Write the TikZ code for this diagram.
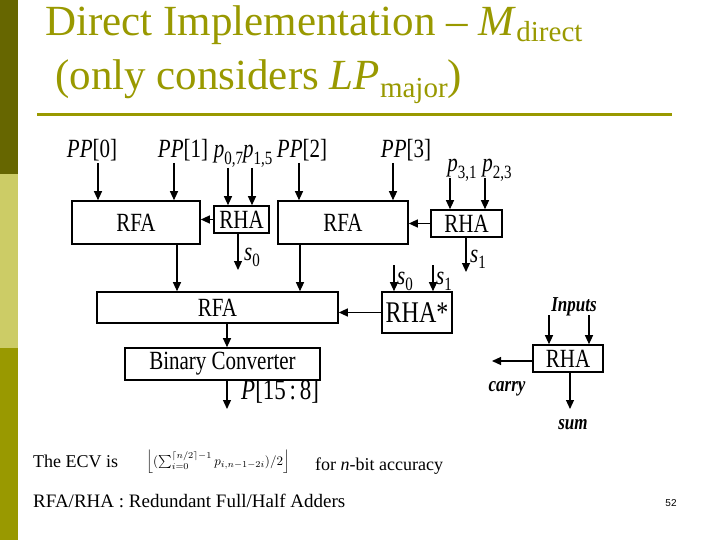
\documentclass[tikz,border=0pt]{standalone}
\usepackage{fontspec}
\setmainfont{Liberation Serif}
\newfontfamily\sansf{Liberation Sans}
\usetikzlibrary{arrows.meta}
\definecolor{olive1}{HTML}{666600}
\definecolor{olive2}{HTML}{CCCC66}
\definecolor{olive3}{HTML}{999900}
\newcommand{\tl}[1]{\scalebox{1}[1.25]{#1}}
\newcommand{\psub}[2]{\textit{#1}\raisebox{-5pt}{\fontsize{15}{15}\selectfont #2}}
\begin{document}
\begin{tikzpicture}[x=1pt,y=-1pt,
  box/.style={draw,line width=1.6pt,inner sep=0pt,font=\fontsize{21}{21}\selectfont},
  arr/.style={line width=1.2pt,-{Triangle[width=8pt,length=9pt]}},
  lab/.style={inner sep=0pt,font=\fontsize{21}{21}\selectfont},
  ital/.style={inner sep=0pt,font=\fontsize{17}{17}\selectfont\bfseries\itshape}]
\useasboundingbox (0,0) rectangle (720,540);
\fill[olive1] (0,0) rectangle (18,174);
\fill[olive2] (0,174) rectangle (18,348);
\fill[olive3] (0,348) rectangle (18,540);
% title
\node[anchor=base west,inner sep=0pt,text=olive3,font=\fontsize{43}{43}\selectfont] (t1) at (45,36) {Direct Implementation -- \textit{M}\raisebox{-6pt}{\fontsize{29}{29}\selectfont direct}};
\node[anchor=base west,inner sep=0pt,text=olive3,font=\fontsize{43}{43}\selectfont] (t2) at (55,90) {(only considers \textit{LP}\raisebox{-8pt}{\fontsize{29}{29}\selectfont major})};
\draw[olive3,line width=3pt] (37,115) -- (672,115);
% boxes
\node[box,minimum width=128pt,minimum height=43pt] (rfa1) at (136,222.5) {\tl{RFA}};
\node[box,minimum width=55pt,minimum height=27pt] (rha1) at (241.5,219.5) {\tl{RHA}};
\node[box,minimum width=130pt,minimum height=43pt] (rfa2) at (343,222.5) {\tl{RFA}};
\node[box,minimum width=71pt,minimum height=27pt] (rha2) at (466.5,223.5) {\tl{RHA}};
\node[box,minimum width=241pt,minimum height=31pt] (rfa3) at (217.5,307.5) {\tl{RFA}};
\node[box,minimum width=70pt,minimum height=41pt,font=\fontsize{24}{24}\selectfont] (rhas) at (417,312.5) {\tl{RHA*}};
\node[box,minimum width=195pt,minimum height=32pt] (bc) at (222.5,364) {\tl{Binary Converter}};
\node[box,minimum width=70pt,minimum height=27pt] (rhal) at (568,358.5) {\tl{RHA}};
% input labels
\node[lab,anchor=base] (pp0) at (92,158) {\tl{\textit{PP}[0]}};
\node[lab,anchor=base] (pp1) at (183,158) {\tl{\textit{PP}[1]}};
\node[lab,anchor=base] (p07) at (243,158) {\tl{\psub{p}{0,7}\psub{p}{1,5}}};
\node[lab,anchor=base] (pp2) at (302,158) {\tl{\textit{PP}[2]}};
\node[lab,anchor=base] (pp3) at (406,158) {\tl{\textit{PP}[3]}};
\node[lab,anchor=base] (p31) at (462,172) {\tl{\psub{p}{3,1}}};
\node[lab,anchor=base] (p23) at (497,172) {\tl{\psub{p}{2,3}}};
\coordinate (a0) at (98,163); \coordinate (a1) at (174,163);
\coordinate (a2) at (228,168); \coordinate (a3) at (252,168);
\coordinate (a4) at (299,163); \coordinate (a5) at (393,163);
\coordinate (a6) at (450,178); \coordinate (a7) at (485,178);
\draw[arr] (a0) -- (a0 |- rfa1.north);
\draw[arr] (a1) -- (a1 |- rfa1.north);
\draw[arr] (a2) -- (a2 |- rha1.north);
\draw[arr] (a3) -- (a3 |- rha1.north);
\draw[arr] (a4) -- (a4 |- rfa2.north);
\draw[arr] (a5) -- (a5 |- rfa2.north);
\draw[arr] (a6) -- (a6 |- rha2.north);
\draw[arr] (a7) -- (a7 |- rha2.north);
\draw[arr] (rha1.west) -- (rfa1.east |- rha1.west);
\draw[arr] (rha2.west) -- (rfa2.east |- rha2.west);
% s outputs
\coordinate (s0e) at (238,270); \coordinate (s1e) at (466,272);
\draw[arr] (s0e |- rha1.south) -- (s0e);
\draw[arr] (s1e |- rha2.south) -- (s1e);
\node[lab,anchor=base west] (s0l) at (244,260) {\tl{\psub{s}{0}}};
\node[lab,anchor=base west] (s1l) at (470,262) {\tl{\psub{s}{1}}};
\coordinate (r0) at (177,244); \coordinate (r1) at (300,244);
\draw[arr] (r0 |- rfa1.south) -- (r0 |- rfa3.north);
\draw[arr] (r1 |- rfa2.south) -- (r1 |- rfa3.north);
\coordinate (q0) at (394,265); \coordinate (q1) at (433,265);
\draw[arr] (q0) -- (q0 |- rhas.north);
\draw[arr] (q1) -- (q1 |- rhas.north);
\node[lab,anchor=base west] (s0b) at (397,284) {\tl{\psub{s}{0}}};
\node[lab,anchor=base west] (s1b) at (436,284) {\tl{\psub{s}{1}}};
\draw[arr] (rhas.west) -- (rfa3.east |- rhas.west);
\coordinate (c0) at (227,330);
\draw[arr] (c0 |- rfa3.south) -- (c0 |- bc.north);
\coordinate (pout) at (227,409);
\draw[arr] (c0 |- bc.south) -- (pout);
\node[lab,anchor=base west,font=\fontsize{23}{23}\selectfont] (pl) at (241,399) {\tl{\textit{P}[15\,:\,8]}};
% legend
\node[ital,anchor=base] (inp) at (574,311) {\tl{Inputs}};
\coordinate (i0) at (549,315); \coordinate (i1) at (589,315);
\draw[arr] (i0) -- (i0 |- rhal.north);
\draw[arr] (i1) -- (i1 |- rhal.north);
\coordinate (car) at (492,361);
\draw[arr] (rhal.west |- car) -- (car);
\node[ital,anchor=base] (carl) at (507,391) {\tl{carry}};
\coordinate (sm) at (570,409);
\draw[arr] (sm |- rhal.south) -- (sm);
\node[ital,anchor=base] (suml) at (573,429) {\tl{sum}};
% bottom text
\node[anchor=base west,inner sep=0pt,font=\fontsize{18}{18}\selectfont] (ecv) at (33,467) {The ECV is};
\node[anchor=west,inner sep=0pt] (fm) at (146,462) {\scalebox{1.3}{$\left\lfloor (\sum_{i=0}^{\lceil n/2\rceil-1} p_{i,n-1-2i})/2\right\rfloor$}};
\node[anchor=base west,inner sep=0pt,font=\fontsize{18}{18}\selectfont] (acc) at (315,470) {for \textit{n}-bit accuracy};
\node[anchor=base west,inner sep=0pt,font=\fontsize{19}{19}\selectfont] (rr) at (33,507) {RFA/RHA : Redundant Full/Half Adders};
\node[anchor=base,inner sep=0pt,font=\sansf\fontsize{10}{10}\selectfont] (pg) at (671,506) {52};
\end{tikzpicture}
\end{document}
